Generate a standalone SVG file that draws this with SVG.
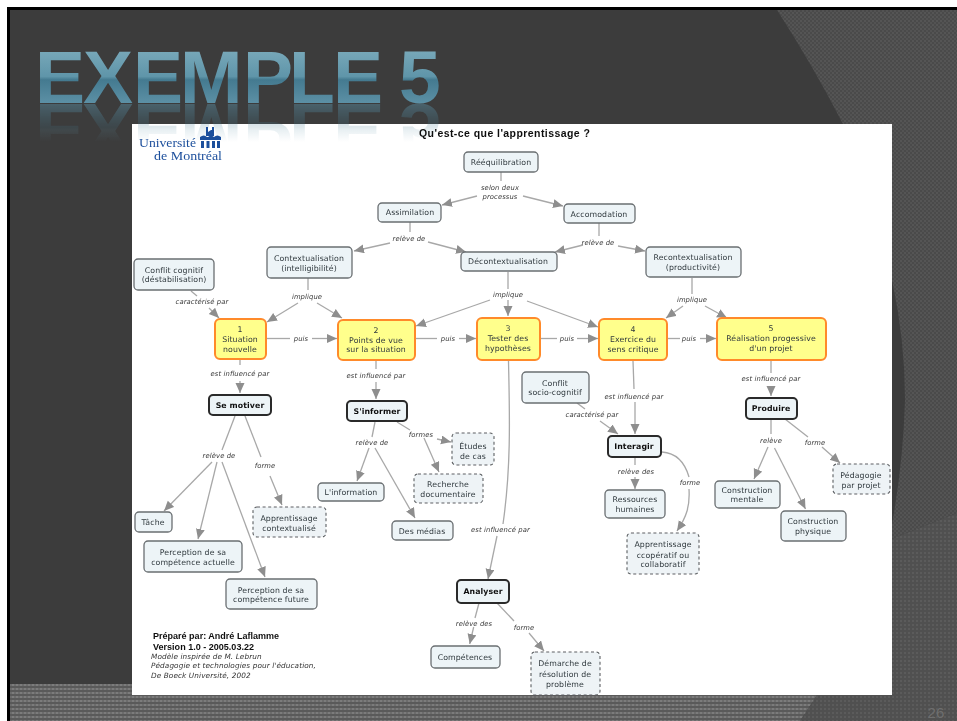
<svg xmlns="http://www.w3.org/2000/svg" xmlns:xlink="http://www.w3.org/1999/xlink" width="957" height="721" viewBox="0 0 957 721">
<style>
text{font-family:"DejaVu Sans",Verdana,sans-serif;font-size:7.8px;fill:#2f383d;text-anchor:middle;letter-spacing:.1px}
.n rect{fill:#edf4f7;stroke:#6a6f72;stroke-width:1.3}
.d rect{fill:#eef3f6;stroke:#5c5f62;stroke-width:1.1;stroke-dasharray:3 2.6}
.y rect{fill:#ffff8c;stroke:#ff8a2a;stroke-width:2}
.b rect{fill:#edf4f7;stroke:#2a2a2a;stroke-width:2}
.b text{font-weight:bold;fill:#111}
.l{font-style:italic;font-size:6.8px;fill:#3a3a3a}
#links path{fill:none;stroke:#a8a8a8;stroke-width:1.3}
#links path.a{marker-end:url(#ah)}
.cr{font-family:"Liberation Sans",Arial,sans-serif;font-weight:bold;font-size:9px;fill:#111;text-anchor:start;letter-spacing:0}
.ci{font-style:italic;font-size:7.3px;fill:#333;text-anchor:start}
.lg{font-family:"Liberation Serif","Times New Roman",serif;font-size:13px;fill:#1d4f9c;text-anchor:start;letter-spacing:0}
</style>
<defs>
<marker id="ah" markerUnits="userSpaceOnUse" markerWidth="12" markerHeight="10" refX="10" refY="4.5" orient="auto"><path d="M0,0L10,4.5L0,9z" fill="#8e8e8e"/></marker>
<pattern id="p1" width="4" height="4" patternUnits="userSpaceOnUse"><rect width="4" height="4" fill="#4a4a4a"/><rect width="2" height="2" fill="#555"/><rect x="2" y="2" width="2" height="2" fill="#535353"/></pattern>
<pattern id="p2" width="4" height="4" patternUnits="userSpaceOnUse"><rect width="4" height="4" fill="#5a5a5a"/><rect width="2" height="2" fill="#7c7c7c"/><rect x="2" width="2" height="2" fill="#6c6c6c"/></pattern>
<pattern id="p3" width="4" height="4" patternUnits="userSpaceOnUse"><rect width="4" height="4" fill="#505050"/><rect width="2" height="2" fill="#5b5b5b"/></pattern>
<linearGradient id="tg" gradientUnits="userSpaceOnUse" x1="0" y1="49" x2="0" y2="104"><stop offset="0" stop-color="#79a9ba"/><stop offset=".5" stop-color="#5f95a9"/><stop offset=".56" stop-color="#447a90"/><stop offset="1" stop-color="#5d91a6"/></linearGradient>
<linearGradient id="fg" gradientUnits="userSpaceOnUse" x1="0" y1="104" x2="0" y2="142"><stop offset="0" stop-color="#fff" stop-opacity=".45"/><stop offset="1" stop-color="#fff" stop-opacity="0"/></linearGradient>
<mask id="fade" maskUnits="userSpaceOnUse" x="0" y="100" width="957" height="50"><rect x="0" y="100" width="957" height="50" fill="url(#fg)"/></mask>
<filter id="soft" x="-2%" y="-2%" width="104%" height="104%"><feGaussianBlur stdDeviation="0.35"/></filter>
</defs>

<rect width="957" height="721" fill="#fff"/>
<rect x="7" y="7" width="950" height="714" fill="#000"/>
<rect x="10" y="10" width="947" height="711" fill="#3c3c3c"/>
<path d="M777,10Q812,64 843,124L892,280Q905,340 905,400Q903,470 889,540L957,513V10Z" fill="url(#p1)"/>
<path d="M889,540L957,513V721H800L817,695H889Z" fill="url(#p3)"/>
<path d="M10,684H132V695H817L800,721H10Z" fill="url(#p2)"/>

<text id="title" x="35 83 133 180 243 289 333 380 399" y="103" style="font-family:'Liberation Sans',Arial,sans-serif;font-weight:bold;font-size:75px;letter-spacing:0;fill:url(#tg);text-anchor:start">EXEMPLE 5</text>

<rect x="132" y="124" width="760" height="571" fill="#fff"/>
<g mask="url(#fade)"><use href="#title" transform="matrix(1 0 0 -1 0 207)"/></g>

<g filter="url(#soft)">
<g id="logo">
<path d="M206,127h2v5l3,-2h1v-3h2v9h-8zM200,137q4,-3 7,0h1q3,-3 6,0q3,-3 7,0v3h-21zM201,141h3v7h-3zM206.500,141h3v7h-3zM212,141h3v7h-3zM217,141h3v7h-3z" fill="#1d4f9c"/>
<text class="lg" x="139" y="146.500" textLength="57" lengthAdjust="spacingAndGlyphs">Université</text>
<text class="lg" x="154" y="160" textLength="68" lengthAdjust="spacingAndGlyphs">de Montréal</text>
</g>
<text x="419" y="137" textLength="171" style="font-family:'Liberation Sans',Arial,sans-serif;font-size:10.5px;font-weight:bold;fill:#111;text-anchor:start">Qu'est-ce que l'apprentissage ?</text>

<g id="links">
<path d="M501,172V181"/><path class="a" d="M477,196L442,205"/><path class="a" d="M523,196L563,206"/>
<path d="M410,222V232"/><path class="a" d="M390,243L354,251"/><path class="a" d="M428,242L466,252"/>
<path d="M599,223V236"/><path class="a" d="M583,245L555,252"/><path class="a" d="M618,246L645,251"/>
<path d="M308,278V290"/><path class="a" d="M298,303L267,322"/><path class="a" d="M317,303L342,318"/>
<path d="M191,291L197,296"/><path class="a" d="M209,308L219,318"/>
<path d="M267,338.500H290"/><path class="a" d="M312,338.500H337"/>
<path d="M240,360V365"/><path class="a" d="M240,381V393"/>
<path d="M416,338.500H437"/><path class="a" d="M459,338.500H476"/>
<path d="M376,361V369"/><path class="a" d="M376,382V399"/>
<path d="M508,272V289"/><path class="a" d="M508,300V316"/><path class="a" d="M490,300L416,326"/><path class="a" d="M527,301L598,327"/>
<path d="M541,338.500H557"/><path class="a" d="M577,338.500H598"/>
<path d="M668,338.500H680"/><path class="a" d="M700,338.500H716"/>
<path d="M692,278V294"/><path class="a" d="M683,306L666,318"/><path class="a" d="M705,306L727,318"/>
<path d="M508.500,361C509.500,410 511.500,465 503,524"/><path class="a" d="M497,536L488,579"/>
<path d="M633,361L634,389"/><path class="a" d="M635,402V434"/>
<path d="M577,403L585,409"/><path class="a" d="M600,421L618,434"/>
<path d="M771,361V373"/><path class="a" d="M771,386V396"/>
<path d="M771,419V434"/><path class="a" d="M768,447L754,479"/><path class="a" d="M774.500,448L805.500,509"/>
<path d="M785,419L808,437"/><path class="a" d="M822,447L840,463"/>
<path d="M635,458V465"/><path class="a" d="M635,477V489"/>
<path d="M662,452C676,453 685,463 689,477"/><path class="a" d="M689,489C690,506 687,516 677,531"/>
<path d="M235,416L222,450"/><path class="a" d="M212,462L164,511"/><path class="a" d="M217,462L198,539"/><path class="a" d="M222,462L265,577"/>
<path d="M245,416L261,457"/><path class="a" d="M270,476L282,505"/>
<path d="M375,422L372,437"/><path class="a" d="M369,448L357,481"/><path class="a" d="M375,448L415,518"/>
<path d="M397,422L410,430"/><path class="a" d="M437,439L451,442"/><path class="a" d="M424,438L439,472"/>
<path d="M479,603L475,618"/><path class="a" d="M473.700,627L469.700,644"/>
<path d="M497,603L514,621"/><path class="a" d="M529,633L544,651"/>
</g>

<g id="connector-labels">
<text class="l" x="500" y="190">selon deux</text><text class="l" x="500" y="199">processus</text>
<text class="l" x="409" y="241">relève de</text><text class="l" x="598" y="245">relève de</text>
<text class="l" x="307" y="299">implique</text><text class="l" x="508" y="297">implique</text><text class="l" x="692" y="302">implique</text>
<text class="l" x="202" y="304">caractérisé par</text><text class="l" x="592" y="417">caractérisé par</text>
<text class="l" x="301" y="341">puis</text><text class="l" x="448" y="341">puis</text><text class="l" x="567" y="341">puis</text><text class="l" x="689" y="341">puis</text>
<text class="l" x="240" y="376">est influencé par</text><text class="l" x="376" y="378">est influencé par</text><text class="l" x="634" y="399">est influencé par</text><text class="l" x="771" y="381">est influencé par</text><text class="l" x="500.500" y="532">est influencé par</text>
<text class="l" x="219" y="458">relève de</text><text class="l" x="372" y="445">relève de</text>
<text class="l" x="265" y="468">forme</text><text class="l" x="421" y="437">formes</text><text class="l" x="690" y="484.500">forme</text><text class="l" x="815" y="445">forme</text><text class="l" x="524" y="630">forme</text>
<text class="l" x="771" y="443">relève</text><text class="l" x="636" y="474">relève des</text><text class="l" x="474" y="626">relève des</text>
</g>

<g id="n-reequilibration" class="n"><rect x="464" y="152" width="74" height="20" rx="4"/><text x="501" y="165">Rééquilibration</text></g>
<g id="n-assimilation" class="n"><rect x="378" y="203" width="63" height="19" rx="4"/><text x="410" y="215">Assimilation</text></g>
<g id="n-accomodation" class="n"><rect x="564" y="204" width="71" height="19" rx="4"/><text x="599" y="217">Accomodation</text></g>
<g id="n-decontextualisation" class="n"><rect x="461" y="252" width="96" height="19" rx="4"/><text x="508" y="264">Décontextualisation</text></g>
<g id="n-contextualisation" class="n"><rect x="267" y="247" width="85" height="31" rx="4"/><text x="309" y="261">Contextualisation</text><text x="309" y="271">(intelligibilité)</text></g>
<g id="n-conflit-cognitif" class="n"><rect x="134" y="259" width="80" height="31" rx="4"/><text x="174" y="273">Conflit cognitif</text><text x="174" y="282">(déstabilisation)</text></g>
<g id="n-recontextualisation" class="n"><rect x="646" y="247" width="95" height="30" rx="4"/><text x="693" y="260">Recontextualisation</text><text x="693" y="270">(productivité)</text></g>

<g id="n-1" class="y"><rect x="215" y="319" width="51" height="40" rx="5"/><text x="240" y="332">1</text><text x="240" y="342">Situation</text><text x="240" y="352">nouvelle</text></g>
<g id="n-2" class="y"><rect x="338" y="320" width="77" height="40" rx="5"/><text x="376" y="333">2</text><text x="376" y="343">Points de vue</text><text x="376" y="352">sur la situation</text></g>
<g id="n-3" class="y"><rect x="477" y="318" width="63" height="42" rx="5"/><text x="508" y="331">3</text><text x="508" y="341">Tester des</text><text x="508" y="351">hypothèses</text></g>
<g id="n-4" class="y"><rect x="599" y="319" width="68" height="41" rx="5"/><text x="633" y="332">4</text><text x="633" y="342">Exercice du</text><text x="633" y="352">sens critique</text></g>
<g id="n-5" class="y"><rect x="717" y="318" width="109" height="42" rx="5"/><text x="771" y="331">5</text><text x="771" y="341">Réalisation progessive</text><text x="771" y="351">d'un projet</text></g>

<g id="n-se-motiver" class="b"><rect x="209" y="395" width="62" height="20" rx="4"/><text x="240" y="408">Se motiver</text></g>
<g id="n-sinformer" class="b"><rect x="347" y="401" width="60" height="20" rx="4"/><text x="377" y="414">S'informer</text></g>
<g id="n-interagir" class="b"><rect x="608" y="436" width="53" height="21" rx="4"/><text x="634" y="449">Interagir</text></g>
<g id="n-produire" class="b"><rect x="746" y="398" width="51" height="21" rx="4"/><text x="771" y="411">Produire</text></g>
<g id="n-analyser" class="b"><rect x="457" y="580" width="52" height="23" rx="4"/><text x="483" y="594">Analyser</text></g>

<g id="n-conflit-socio" class="n"><rect x="522" y="372" width="67" height="31" rx="4"/><text x="555" y="386">Conflit</text><text x="555" y="395">socio-cognitif</text></g>
<g id="n-etudes" class="d"><rect x="452" y="433" width="42" height="32" rx="4"/><text x="473" y="449">Études</text><text x="473" y="459">de cas</text></g>
<g id="n-recherche" class="d"><rect x="414" y="474" width="69" height="29" rx="4"/><text x="448" y="487">Recherche</text><text x="448" y="497">documentaire</text></g>
<g id="n-information" class="n"><rect x="318" y="483" width="66" height="18" rx="4"/><text x="351" y="495">L'information</text></g>
<g id="n-medias" class="n"><rect x="392" y="521" width="61" height="19" rx="4"/><text x="422" y="534">Des médias</text></g>
<g id="n-tache" class="n"><rect x="135" y="512" width="37" height="20" rx="4"/><text x="153" y="525">Tâche</text></g>
<g id="n-perception-actuelle" class="n"><rect x="144" y="541" width="98" height="31" rx="4"/><text x="193" y="555">Perception de sa</text><text x="193" y="565">compétence actuelle</text></g>
<g id="n-perception-future" class="n"><rect x="226" y="579" width="91" height="30" rx="4"/><text x="271" y="593">Perception de sa</text><text x="271" y="602">compétence future</text></g>
<g id="n-app-contextualise" class="d"><rect x="253" y="507" width="73" height="30" rx="4"/><text x="289" y="521">Apprentissage</text><text x="289" y="531">contextualisé</text></g>
<g id="n-competences" class="n"><rect x="431" y="646" width="69" height="22" rx="4"/><text x="465" y="660">Compétences</text></g>
<g id="n-demarche" class="d"><rect x="531" y="652" width="69" height="43" rx="4"/><text x="565" y="666">Démarche de</text><text x="565" y="676.500">résolution de</text><text x="565" y="686.500">problème</text></g>
<g id="n-ressources" class="n"><rect x="605" y="490" width="60" height="28" rx="4"/><text x="635" y="502">Ressources</text><text x="635" y="512">humaines</text></g>
<g id="n-app-cooperatif" class="d"><rect x="627" y="533" width="72" height="41" rx="4"/><text x="663" y="547">Apprentissage</text><text x="663" y="557.500">ccopératif ou</text><text x="663" y="567">collaboratif</text></g>
<g id="n-construction-mentale" class="n"><rect x="715" y="481" width="65" height="27" rx="4"/><text x="747" y="493">Construction</text><text x="747" y="502">mentale</text></g>
<g id="n-construction-physique" class="n"><rect x="781" y="511" width="65" height="30" rx="4"/><text x="813" y="524">Construction</text><text x="813" y="534">physique</text></g>
<g id="n-pedagogie" class="d"><rect x="833" y="464" width="57" height="30" rx="4"/><text x="861" y="478">Pédagogie</text><text x="861" y="488">par projet</text></g>

<g id="credits">
<text class="cr" x="153" y="639" textLength="126" lengthAdjust="spacingAndGlyphs">Préparé par: André Laflamme</text>
<text class="cr" x="153" y="649.500" textLength="101" lengthAdjust="spacingAndGlyphs">Version 1.0 - 2005.03.22</text>
<text class="ci" x="151" y="658.500">Modèle inspirée de M. Lebrun</text>
<text class="ci" x="151" y="668">Pédagogie et technologies pour l'éducation,</text>
<text class="ci" x="151" y="677.500">De Boeck Université, 2002</text>
</g>
</g>
<text x="936" y="718" style="font-family:'Liberation Sans',Arial,sans-serif;font-size:15px;fill:#6e6e6e">26</text>
</svg>
